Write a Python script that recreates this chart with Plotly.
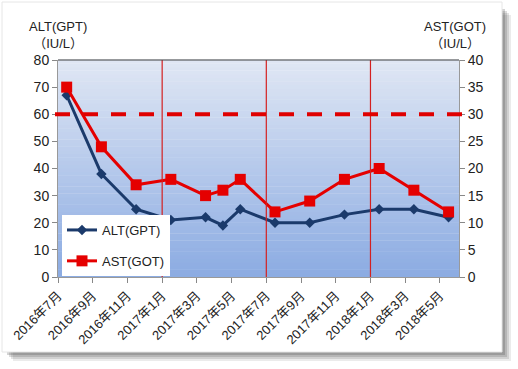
import plotly.graph_objects as go

# ---- data ----
months = ["2016-07", "2016-09", "2016-11", "2017-01", "2017-03", "2017-04", "2017-05",
          "2017-07", "2017-09", "2017-11", "2018-01", "2018-03", "2018-05"]
alt_values = [67, 38, 25, 21, 22, 19, 25, 20, 20, 23, 25, 25, 22]
ast_values = [35, 24, 17, 18, 15, 16, 18, 12, 14, 18, 20, 16, 12]
tick_months = ["2016-07", "2016-09", "2016-11", "2017-01", "2017-03", "2017-05",
               "2017-07", "2017-09", "2017-11", "2018-01", "2018-03", "2018-05"]
tick_labels = ["2016年7月", "2016年9月", "2016年11月", "2017年1月", "2017年3月", "2017年5月",
               "2017年7月", "2017年9月", "2017年11月", "2018年1月", "2018年3月", "2018年5月"]
vline_months = ["2017-01", "2017-07", "2018-01"]
alt_limit = 60
ast_limit = 30

BASE = (2016, 7)


def month_index(s):
    y, m = map(int, s.split("-"))
    return (y - BASE[0]) * 12 + (m - BASE[1])


x_pts = [month_index(m) + 0.5 for m in months]   # centre of month slot
x_ticks = [month_index(m) for m in tick_months]
x_vlines = [month_index(m) for m in vline_months]

FONT = "Liberation Sans, Noto Sans CJK JP, sans-serif"
W, H = 518, 369
L, R, T, B = 58, 59, 60, 92
PW, PH = W - L - R, H - T - B


def px(xpix):
    return (xpix - L) / PW


def py(ypix):
    return (H - B - ypix) / PH


fig = go.Figure()
fig.add_trace(go.Scatter(
    x=x_pts, y=alt_values, name="ALT(GPT)", mode="lines+markers", legendgroup="a",
    line=dict(color="#1b3a6b", width=3),
    marker=dict(symbol="diamond", size=8, color="#1b3a6b"),
))
fig.add_trace(go.Scatter(
    x=x_pts, y=ast_values, name="AST(GOT)", mode="lines+markers", legendgroup="b",
    yaxis="y2",
    line=dict(color="#e50000", width=3),
    marker=dict(symbol="square", size=11, color="#e50000"),
))

shapes = []
# card shadow (soft)
for i, op in enumerate([0.10, 0.14, 0.18, 0.22]):
    off = 9 - 2 * i
    shapes.append(dict(type="rect", xref="paper", yref="paper", layer="below",
                       x0=px(off + 4), x1=px(502 + off), y0=py(352 + off), y1=py(off + 6),
                       fillcolor="rgb(60,60,60)", opacity=op, line_width=0))
# white card
shapes.append(dict(type="rect", xref="paper", yref="paper", layer="below",
                   x0=px(2), x1=px(502), y0=py(352), y1=py(2),
                   fillcolor="white", line=dict(color="#e6e6e6", width=1)))
# gradient plot background
top = (224, 231, 244)
bot = (139, 171, 226)
N = 60
for i in range(N):
    f = (i + 0.5) / N
    c = tuple(round(bot[k] + (top[k] - bot[k]) * f) for k in range(3))
    shapes.append(dict(type="rect", xref="paper", yref="paper", layer="below",
                       x0=0, x1=1, y0=i / N, y1=(i + 1) / N + 0.002,
                       fillcolor="rgb(%d,%d,%d)" % c, line_width=0))
# vertical red lines
for xv in x_vlines:
    shapes.append(dict(type="line", xref="x", yref="paper", x0=xv, x1=xv, y0=0, y1=1,
                       line=dict(color="#d42020", width=1.2)))
# limit dashed line
shapes.append(dict(type="line", xref="paper", yref="y", x0=px(55), x1=px(462),
                   y0=alt_limit, y1=alt_limit,
                   line=dict(color="#e00000", width=4, dash="15px,13px")))
# top border of plot area
shapes.append(dict(type="line", xref="paper", yref="paper", x0=0, x1=1, y0=1, y1=1,
                   line=dict(color="#404040", width=1.2)))

annotations = [
    dict(text="ALT(GPT)<br>（IU/L）", xref="paper", yref="paper", x=px(58), y=py(17),
         xanchor="center", yanchor="top", showarrow=False, align="center",
         font=dict(family=FONT, size=13, color="#222")),
    dict(text="AST(GOT)<br>（IU/L）", xref="paper", yref="paper", x=px(455), y=py(17),
         xanchor="center", yanchor="top", showarrow=False, align="center",
         font=dict(family=FONT, size=13, color="#222")),
]

fig.update_layout(
    width=W, height=H,
    margin=dict(l=L, r=R, t=T, b=B),
    paper_bgcolor="white",
    plot_bgcolor="rgba(0,0,0,0)",
    font=dict(family=FONT, size=13, color="#222"),
    showlegend=True,
    legend=dict(x=px(62), y=py(215), xanchor="left", yanchor="top",
                bgcolor="white", borderwidth=0, tracegroupgap=11,
                font=dict(family=FONT, size=13, color="#222")),
    xaxis=dict(range=[0, 23.1], tickmode="array", tickvals=x_ticks, ticktext=tick_labels,
               tickangle=-45, ticks="outside", ticklen=5, tickcolor="#888",
               showgrid=False, zeroline=False, showline=True, linecolor="#999", linewidth=1,
               automargin=False,
               tickfont=dict(family=FONT, size=13, color="#222")),
    yaxis=dict(range=[0, 80], dtick=10, ticks="outside", ticklen=5, tickcolor="#888",
               showgrid=False, zeroline=False, showline=True, linecolor="#999", linewidth=1,
               automargin=False,
               tickfont=dict(family=FONT, size=14, color="#222")),
    yaxis2=dict(range=[0, 40], dtick=5, overlaying="y", side="right", ticks="outside",
                ticklen=5, tickcolor="#888", showgrid=False, zeroline=False,
                showline=True, linecolor="#999", linewidth=1, automargin=False,
                tickfont=dict(family=FONT, size=14, color="#222")),
    shapes=shapes,
    annotations=annotations,
)

fig.write_html("out.html", config={"displayModeBar": False},
               post_script="document.body.style.margin='0';document.body.style.overflow='hidden';")
